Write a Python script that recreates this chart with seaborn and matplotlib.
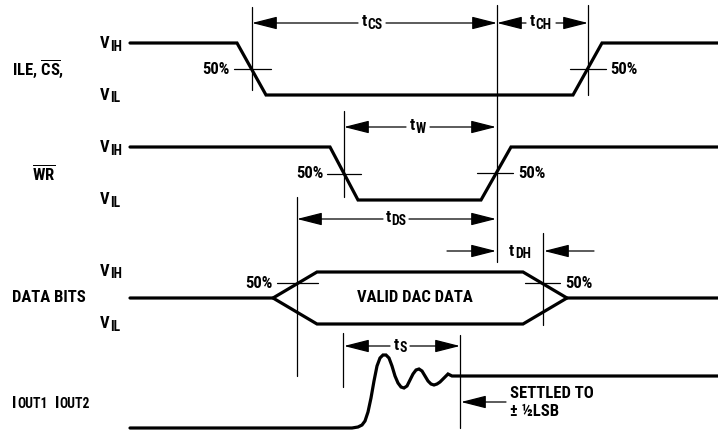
import matplotlib
matplotlib.use("Agg")
import matplotlib.pyplot as plt
from matplotlib import font_manager as fm
import seaborn as sns
import pandas as pd

sns.set_theme(style="white")

_candidates = ["Roboto Condensed", "IBM Plex Sans Condensed", "Archivo Narrow", "DejaVu Sans"]
_bold = {f.name for f in fm.fontManager.ttflist if str(f.weight) in ("700", "bold")}
FONT_NAME = next((c for c in _candidates if c in _bold), "DejaVu Sans")
plt.rcParams["font.family"] = [FONT_NAME, "DejaVu Sans"]
plt.rcParams["text.color"] = "black"
plt.rcParams["mathtext.fontset"] = "custom"
plt.rcParams["mathtext.rm"] = FONT_NAME + ":bold"
plt.rcParams["mathtext.it"] = FONT_NAME + ":bold"
plt.rcParams["mathtext.bf"] = FONT_NAME + ":bold"

# ---------------- data (time axis / level axis in drawing units) ----------------
ile_t = [130, 237, 266, 573, 602, 718]
ile_v = [43, 43, 95, 95, 43, 43]

wr_t = [130, 330, 358, 481, 511, 718]
wr_v = [147, 147, 200, 200, 147, 147]

data_up_t = [130, 273, 317, 523, 567, 718]
data_up_v = [298, 298, 272, 272, 298, 298]
data_lo_t = [273, 317, 523, 567]
data_lo_v = [298, 324, 324, 298]

iout_t = [130, 352, 358, 362, 365, 368, 371, 374, 377, 380, 383, 386, 389, 392, 395,
          398, 401, 404, 407, 410, 413, 416, 419, 422, 425, 428, 431, 434, 437, 440,
          443, 446, 448, 450, 452, 718]
iout_v = [428, 428, 427, 425, 421, 412, 398, 381, 366, 358, 355, 355, 358, 366, 376,
          383, 387, 388, 386, 380, 374, 370, 369, 371, 376, 381, 384, 385, 384, 382,
          379, 376, 374, 375, 376, 376]

signal_names = ["ILE, $\\overline{\\mathrm{CS}}$,", "$\\overline{\\mathrm{WR}}$", "DATA BITS"]
signal_name_pos = [(12, 69), (32, 173), (12, 297)]
iout_parts = [("I", "OUT1"), ("I", "OUT2")]
iout_x = [12, 55]
iout_y = 403
level_main = ["V", "V"] * 3
level_sub = ["IH", "IL"] * 3
level_label_y = [44, 95, 148, 200, 271, 324]

# timing markers: vertical reference lines (x, y0, y1)
ref_x = [252, 588, 497, 344, 297, 343, 543, 460]
ref_y0 = [7, 5, 5, 111, 197, 333, 233, 335]
ref_y1 = [90, 95, 262, 197, 376, 387, 325, 428]

# 50% crossing ticks (x0, x1, y) and labels
tick_x0 = [234, 570, 327, 477, 277, 525]
tick_x1 = [271, 606, 361, 513, 318, 560]
tick_y = [69, 69, 174, 173, 283, 283]
pct_text_x = [230, 610, 324, 518, 273, 565]
pct_text_ha = ["right", "left", "right", "left", "right", "left"]

# dimension arrows: label subscript, label centre x, y, left end, right end, label half gap
dim_sub = ["CS", "CH", "W", "DS", "S"]
dim_cx = [372, 541, 418, 396, 400]
dim_y = [23, 23, 127, 219, 346]
dim_left = [252, 497, 344, 297, 344]
dim_right = [497, 588, 496, 496, 460]
dim_gap = [14, 15, 12, 13, 10]

# ---------------- drawing ----------------
fig = plt.figure(figsize=(7.18, 4.34), dpi=100)
ax = fig.add_axes([0, 0, 1, 1])
renderer = fig.canvas.get_renderer()

WAVE_LW = 2.3
THIN = 0.9
FS = 12
SUB_FS = 9.8
SUB_DY = 3.2

for t, v in [(ile_t, ile_v), (wr_t, wr_v), (data_up_t, data_up_v),
             (data_lo_t, data_lo_v), (iout_t, iout_v)]:
    df = pd.DataFrame({"t": t, "v": v})
    sns.lineplot(data=df, x="t", y="v", sort=False, estimator=None, color="black",
                 lw=WAVE_LW, ax=ax, solid_joinstyle="miter")
ax.set_xlim(0, 718)
ax.set_ylim(434, 0)
ax.axis("off")


def sub_text(x, y, main, sub, ha="left", dy=SUB_DY):
    """Text with a large subscript; x is left edge or centre."""
    t1 = ax.text(x, y, main, ha="left", va="center", fontsize=FS, fontweight="bold")
    t2 = ax.text(x, y + dy, sub, ha="left", va="center", fontsize=SUB_FS,
                 fontweight="bold")
    w1 = t1.get_window_extent(renderer).width
    w2 = t2.get_window_extent(renderer).width
    x0 = x - (w1 + w2 + 0.5) / 2 if ha == "center" else x
    t1.set_x(x0)
    t2.set_x(x0 + w1 + 0.5)


for x, y0, y1 in zip(ref_x, ref_y0, ref_y1):
    ax.plot([x, x], [y0, y1], color="black", lw=THIN)

for x0, x1, y, tx, ha in zip(tick_x0, tick_x1, tick_y, pct_text_x, pct_text_ha):
    ax.plot([x0, x1], [y, y], color="black", lw=THIN)
    ax.text(tx, y, "50%", ha=ha, va="center", fontsize=FS, fontweight="bold")

arrow_kw = dict(arrowstyle="-|>,head_length=1.3,head_width=0.33", color="black",
                lw=THIN, shrinkA=0, shrinkB=0)


def arrow(x_from, x_to, y):
    ax.annotate("", xy=(x_to, y), xytext=(x_from, y), arrowprops=arrow_kw)


for sub, cx, y, l, r, g in zip(dim_sub, dim_cx, dim_y, dim_left, dim_right, dim_gap):
    arrow(cx - g, l, y)
    arrow(cx + g, r, y)
    sub_text(cx, y - 1, "t", sub, ha="center")

# data hold time (arrows pointing inward)
arrow(447, 496, 251)
arrow(594, 544, 251)
sub_text(520, 251, "t", "DH", ha="center")

# settled annotation
arrow(506, 461, 402)
ax.text(510, 393, "SETTLED TO", ha="left", va="center", fontsize=FS, fontweight="bold")
ax.text(510, 411, "\u00b1 \u00bdLSB", ha="left", va="center", fontsize=FS, fontweight="bold")

ax.text(415, 297, "VALID DAC DATA", ha="center", va="center", fontsize=FS, fontweight="bold")

for name, (x, y) in zip(signal_names, signal_name_pos):
    ax.text(x, y, name, ha="left", va="center", fontsize=FS, fontweight="bold")
for (m, s), x in zip(iout_parts, iout_x):
    sub_text(x, iout_y, m, s, dy=1.5)
for m, s, y in zip(level_main, level_sub, level_label_y):
    sub_text(100, y, m, s)

fig.savefig("out.png", dpi=100, facecolor="white")
